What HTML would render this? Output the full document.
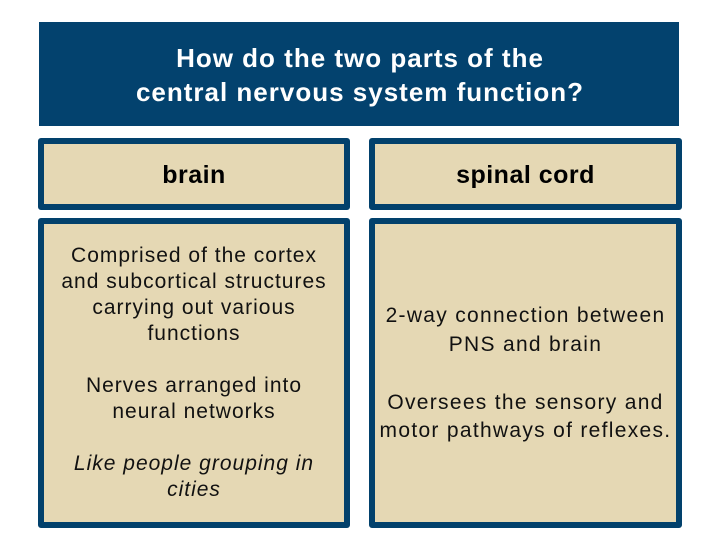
<!DOCTYPE html>
<html><head><meta charset="utf-8"><style>
body{margin:0;width:720px;height:540px;background:#fff;position:relative;overflow:hidden;font-family:"Liberation Sans",Arial,sans-serif;}
.b{position:absolute;box-sizing:border-box;}
.title{left:39px;top:22px;width:640px;height:104px;background:#03426e;}
.box{background:#e5d8b4;border:6px solid #02416c;border-radius:3px;}
.t{position:absolute;left:0;width:720px;text-align:center;white-space:nowrap;line-height:1;}
</style></head><body>
<div class="b title"></div>
<div class="b box" style="left:38px;top:138px;width:312px;height:72px"></div>
<div class="b box" style="left:369px;top:138px;width:313px;height:72px"></div>
<div class="b box" style="left:38px;top:218px;width:312px;height:310px"></div>
<div class="b box" style="left:369px;top:218px;width:313px;height:310px"></div>

<div class="t" style="left:0;width:720px;top:45px;font-size:26px;font-weight:bold;color:#fff;letter-spacing:1px">How do the two parts of the</div>
<div class="t" style="left:0;width:720px;top:79px;font-size:26px;font-weight:bold;color:#fff;letter-spacing:1px">central nervous system function?</div>

<div class="t" style="left:38px;width:312px;top:163px;font-size:25px;font-weight:bold;letter-spacing:0.5px">brain</div>
<div class="t" style="left:369px;width:313px;top:163px;font-size:25px;font-weight:bold;letter-spacing:0.5px">spinal cord</div>

<div style="position:absolute;left:38px;width:312px;font-size:21px;color:#111;letter-spacing:1px">
<div class="t" style="width:312px;top:245px">Comprised of the cortex</div>
<div class="t" style="width:312px;top:271px">and subcortical structures</div>
<div class="t" style="width:312px;top:297px">carrying out various</div>
<div class="t" style="width:312px;top:323px">functions</div>
<div class="t" style="width:312px;top:375px">Nerves arranged into</div>
<div class="t" style="width:312px;top:401px">neural networks</div>
<div class="t" style="width:312px;top:453px;font-style:italic">Like people grouping in</div>
<div class="t" style="width:312px;top:479px;font-style:italic">cities</div>
</div>

<div style="position:absolute;left:369px;width:313px;font-size:21px;color:#111;letter-spacing:1.3px">
<div class="t" style="width:313px;top:305px">2-way connection between</div>
<div class="t" style="width:313px;top:334px">PNS and brain</div>
<div class="t" style="width:313px;top:392px">Oversees the sensory and</div>
<div class="t" style="width:313px;top:420px">motor pathways of reflexes.</div>
</div>
</body></html>
